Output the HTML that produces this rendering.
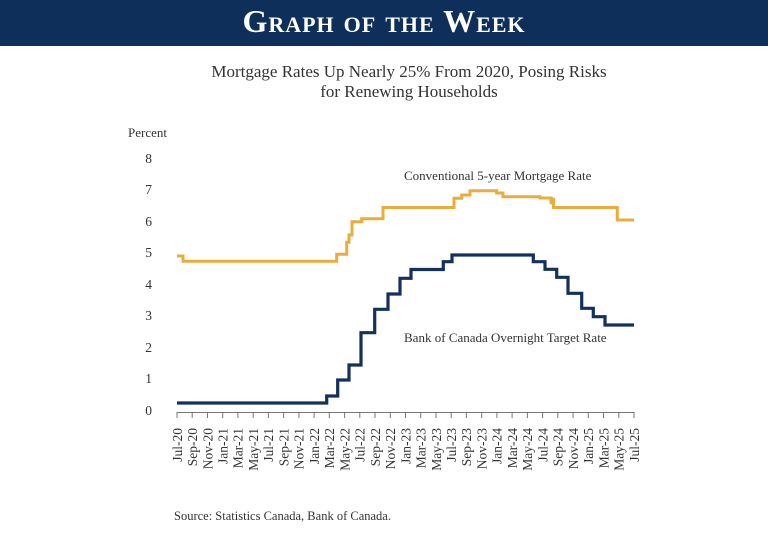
<!DOCTYPE html>
<html><head><meta charset="utf-8"><style>
html,body{margin:0;padding:0;background:#fff;}
svg{display:block;}
text{font-family:"Liberation Serif",serif;fill:#333;}
</style></head><body>
<svg width="768" height="539" viewBox="0 0 768 539" xmlns="http://www.w3.org/2000/svg">
<rect x="0" y="0" width="768" height="46" fill="#0e2f5a"/>
<text x="384" y="32" text-anchor="middle" style="font-size:32px;font-variant:small-caps;font-weight:bold;fill:#fff;letter-spacing:1px">Graph of the Week</text>
<text x="409" y="77" text-anchor="middle" style="font-size:17px">Mortgage Rates Up Nearly 25% From 2020, Posing Risks</text>
<text x="409" y="97" text-anchor="middle" style="font-size:17px">for Renewing Households</text>
<text x="128" y="137" style="font-size:13px">Percent</text>
<g style="font-size:13.5px" text-anchor="end">
<text x="152" y="163">8</text><text x="152" y="194">7</text><text x="152" y="226">6</text>
<text x="152" y="257">5</text><text x="152" y="289">4</text><text x="152" y="320">3</text>
<text x="152" y="352">2</text><text x="152" y="383">1</text><text x="152" y="415">0</text>
</g>
<g stroke="#777" stroke-width="1" fill="none">
<line x1="177" y1="412.5" x2="634" y2="412.5"/>
</g>
<g stroke="#777" stroke-width="1">
<line x1="177.0" y1="412" x2="177.0" y2="418"/><line x1="192.2" y1="412" x2="192.2" y2="418"/><line x1="207.5" y1="412" x2="207.5" y2="418"/><line x1="222.7" y1="412" x2="222.7" y2="418"/><line x1="237.9" y1="412" x2="237.9" y2="418"/><line x1="253.2" y1="412" x2="253.2" y2="418"/><line x1="268.4" y1="412" x2="268.4" y2="418"/><line x1="283.6" y1="412" x2="283.6" y2="418"/><line x1="298.9" y1="412" x2="298.9" y2="418"/><line x1="314.1" y1="412" x2="314.1" y2="418"/><line x1="329.3" y1="412" x2="329.3" y2="418"/><line x1="344.6" y1="412" x2="344.6" y2="418"/><line x1="359.8" y1="412" x2="359.8" y2="418"/><line x1="375.0" y1="412" x2="375.0" y2="418"/><line x1="390.3" y1="412" x2="390.3" y2="418"/><line x1="405.5" y1="412" x2="405.5" y2="418"/><line x1="420.7" y1="412" x2="420.7" y2="418"/><line x1="436.0" y1="412" x2="436.0" y2="418"/><line x1="451.2" y1="412" x2="451.2" y2="418"/><line x1="466.4" y1="412" x2="466.4" y2="418"/><line x1="481.7" y1="412" x2="481.7" y2="418"/><line x1="496.9" y1="412" x2="496.9" y2="418"/><line x1="512.1" y1="412" x2="512.1" y2="418"/><line x1="527.4" y1="412" x2="527.4" y2="418"/><line x1="542.6" y1="412" x2="542.6" y2="418"/><line x1="557.8" y1="412" x2="557.8" y2="418"/><line x1="573.1" y1="412" x2="573.1" y2="418"/><line x1="588.3" y1="412" x2="588.3" y2="418"/><line x1="603.5" y1="412" x2="603.5" y2="418"/><line x1="618.8" y1="412" x2="618.8" y2="418"/><line x1="634.0" y1="412" x2="634.0" y2="418"/>
</g>
<g style="font-size:13.5px" text-anchor="end">
<text transform="translate(181.8,428) rotate(-90)">Jul-20</text>
<text transform="translate(197.0,428) rotate(-90)">Sep-20</text>
<text transform="translate(212.3,428) rotate(-90)">Nov-20</text>
<text transform="translate(227.5,428) rotate(-90)">Jan-21</text>
<text transform="translate(242.7,428) rotate(-90)">Mar-21</text>
<text transform="translate(258.0,428) rotate(-90)">May-21</text>
<text transform="translate(273.2,428) rotate(-90)">Jul-21</text>
<text transform="translate(288.4,428) rotate(-90)">Sep-21</text>
<text transform="translate(303.7,428) rotate(-90)">Nov-21</text>
<text transform="translate(318.9,428) rotate(-90)">Jan-22</text>
<text transform="translate(334.1,428) rotate(-90)">Mar-22</text>
<text transform="translate(349.4,428) rotate(-90)">May-22</text>
<text transform="translate(364.6,428) rotate(-90)">Jul-22</text>
<text transform="translate(379.8,428) rotate(-90)">Sep-22</text>
<text transform="translate(395.1,428) rotate(-90)">Nov-22</text>
<text transform="translate(410.3,428) rotate(-90)">Jan-23</text>
<text transform="translate(425.5,428) rotate(-90)">Mar-23</text>
<text transform="translate(440.8,428) rotate(-90)">May-23</text>
<text transform="translate(456.0,428) rotate(-90)">Jul-23</text>
<text transform="translate(471.2,428) rotate(-90)">Sep-23</text>
<text transform="translate(486.5,428) rotate(-90)">Nov-23</text>
<text transform="translate(501.7,428) rotate(-90)">Jan-24</text>
<text transform="translate(516.9,428) rotate(-90)">Mar-24</text>
<text transform="translate(532.2,428) rotate(-90)">May-24</text>
<text transform="translate(547.4,428) rotate(-90)">Jul-24</text>
<text transform="translate(562.6,428) rotate(-90)">Sep-24</text>
<text transform="translate(577.9,428) rotate(-90)">Nov-24</text>
<text transform="translate(593.1,428) rotate(-90)">Jan-25</text>
<text transform="translate(608.3,428) rotate(-90)">Mar-25</text>
<text transform="translate(623.6,428) rotate(-90)">May-25</text>
<text transform="translate(638.8,428) rotate(-90)">Jul-25</text>
</g>
<path fill="none" stroke="#e8ad3c" stroke-width="3" stroke-linejoin="miter"
d="M177,256 H183 V261.3 H336.7 V254.3 H346.7 V242.3 H349 V235 H352 V221.7 H361.7 V218.7 H383 V207.5 H454 V198.3 H461.7 V195 H470 V190.7 H496.7 V193 H503 V196.7 H540 V198 H551 V204 L553.5,198 V207.5 H617.3 V220 H634"/>
<path fill="none" stroke="#14305c" stroke-width="3.2"
d="M177,403 H326.7 V396 H337.7 V380 H349 V365 H361 V332.7 H374.7 V309.3 H388 V294 H400 V278.3 H411 V269.5 H443.3 V261.7 H452 V255 H533.3 V261.7 H545 V269.3 H556.7 V277.3 H568 V293.3 H581.7 V308.3 H593.3 V316.7 H605 V325 H634"/>
<text x="404" y="180" style="font-size:13px">Conventional 5-year Mortgage Rate</text>
<text x="404" y="342" style="font-size:13px">Bank of Canada Overnight Target Rate</text>
<text x="174" y="520" style="font-size:12.5px">Source: Statistics Canada, Bank of Canada.</text>
</svg>
</body></html>
